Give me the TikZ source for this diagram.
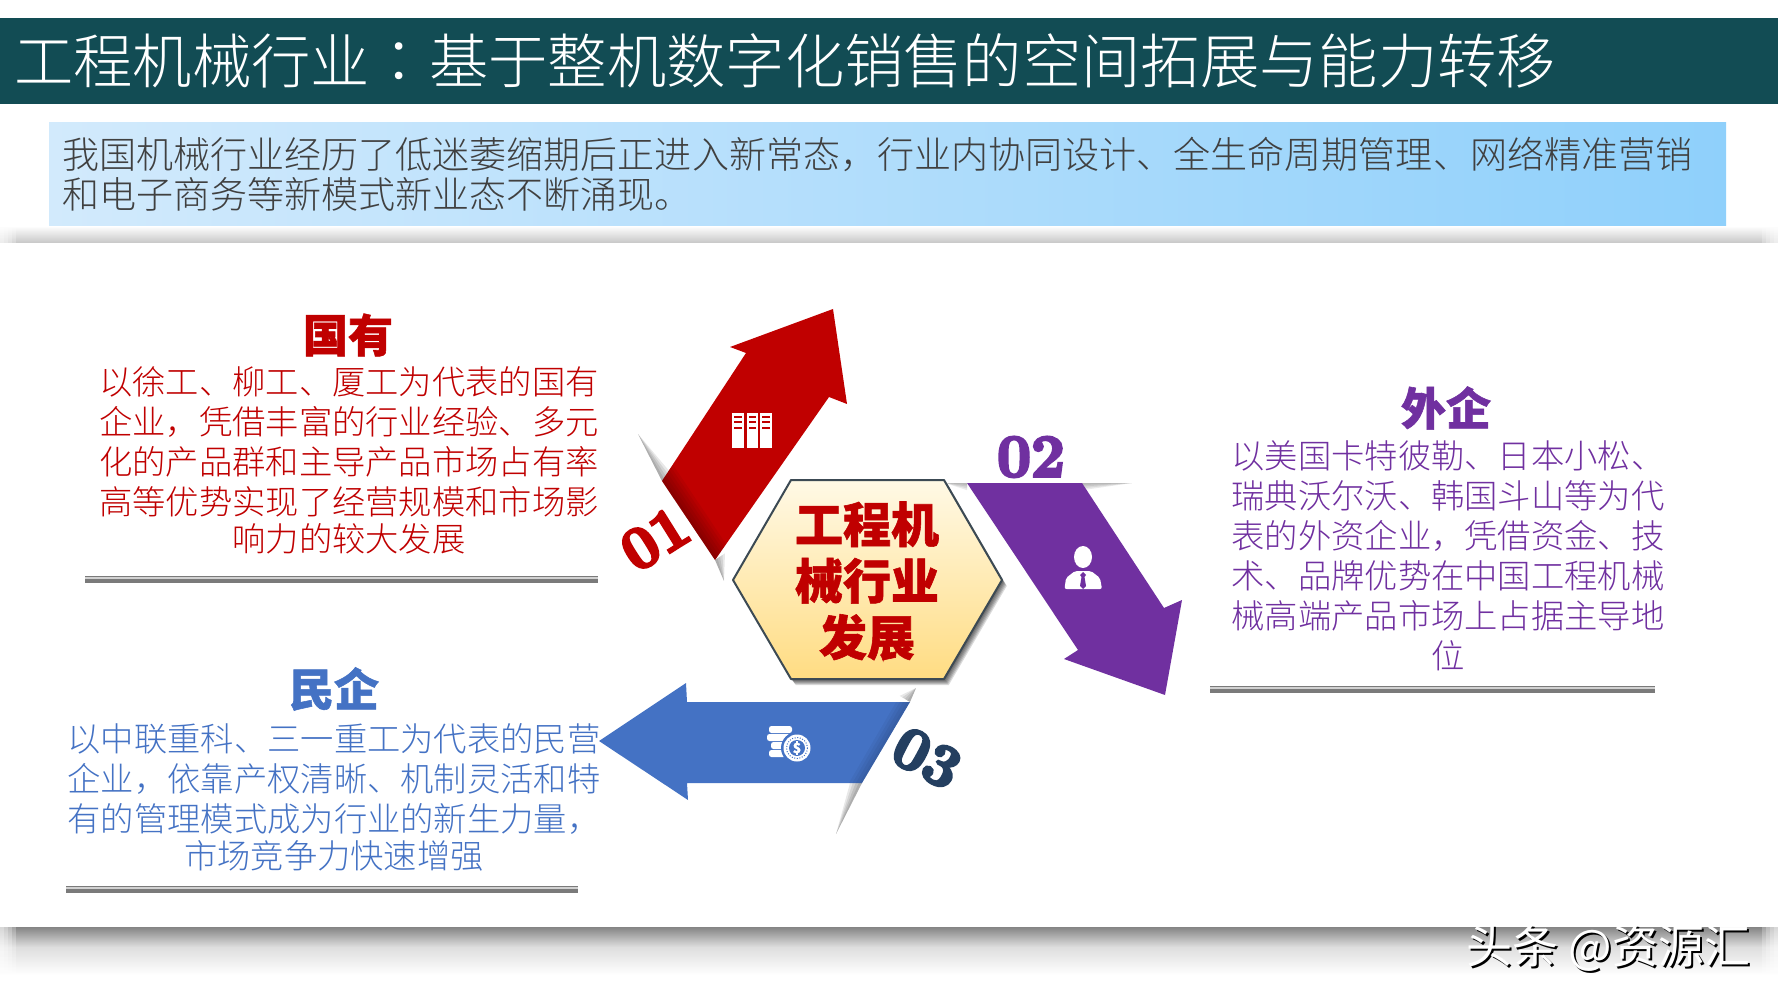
\documentclass[tikz,border=0pt]{standalone}
\usepackage{fontspec}
\newfontfamily\cjk{Noto Sans CJK SC Light}
\newfontfamily\cjkheavy[BoldFeatures={FakeBold=1.2}]{Noto Sans CJK SC}
\newfontfamily\cjktc{Noto Sans CJK TC Light}
\newfontfamily\numfont[FakeBold=5]{Latin Modern Roman}
\usetikzlibrary{calc}
\definecolor{titlebar}{HTML}{124C54}
\definecolor{corered}{HTML}{C00000}
\definecolor{corepurple}{HTML}{7030A0}
\definecolor{coreblue}{HTML}{4472C4}
\definecolor{corenavy}{HTML}{243F60}
\definecolor{introleft}{HTML}{D2EAFC}
\definecolor{introright}{HTML}{8FD0FB}
\definecolor{hextop}{HTML}{FFF9E6}
\definecolor{hexbottom}{HTML}{FFDC82}
\definecolor{hexline}{HTML}{3C4A54}
\tikzset{
  bodytext/.style={inner sep=0pt,align=center,font=\cjk\fontsize{33.3}{40}\selectfont},
  headtext/.style={inner sep=0pt,font=\cjkheavy\bfseries\fontsize{45}{50}\selectfont},
  numtext/.style={inner sep=0pt,font=\numfont\bfseries\fontsize{60}{60}\selectfont},
  iconfill/.style={fill=white,draw=none}
}
\begin{document}
\begin{tikzpicture}[x=1pt,y=-1pt]
\useasboundingbox (0,0) rectangle (1778,1000);
\fill[white] (0,0) rectangle (1778,1000);
% band shadows
\shade[top color=white,bottom color=black!22] (0,226) rectangle (1778,243);
\shade[top color=black!48,bottom color=black!13] (0,927) rectangle (1778,947);
\shade[top color=black!13,bottom color=white] (0,947) rectangle (1778,975);
\foreach \w in {4,8,12,16}{
  \fill[white,opacity=.25] (0,226) rectangle (\w,243);
  \fill[white,opacity=.25] (1778-\w,226) rectangle (1778,243);
  \fill[white,opacity=.25] (0,927) rectangle (\w,975);
  \fill[white,opacity=.25] (1778-\w,927) rectangle (1778,975);
}
% title
\fill[titlebar] (0,18) rectangle (1778,104);
\node[anchor=west,inner sep=0pt,text=white,font=\cjk\fontsize{59.3}{60}\selectfont] (title) at (14,61) {工程机械行业{\cjktc ：}基于整机数字化销售的空间拓展与能力转移};
% intro
\shade[left color=introleft,right color=introright] (49,122.5) rectangle (1726,226);
\node[anchor=west,inner sep=0pt,align=left,text=black!75,font=\cjk\fontsize{37.05}{40}\selectfont] (intro) at (62,174.5) {我国机械行业经历了低迷萎缩期后正进入新常态，行业内协同设计、全生命周期管理、网络精准营销\\和电子商务等新模式新业态不断涌现。};
% slivers
\foreach \w in {3,6,9,12}{
  \fill[black,opacity=.09] (638,434) -- (662,481) -- ($(662,481)+(.83*\w,-.56*\w)$) -- cycle;
  \fill[black,opacity=.09] (724,581) -- (715,560) -- ($(715,560)+(.83*\w,-.56*\w)$) -- cycle;
  \fill[black,opacity=.08] (945,483) -- (967,483) -- (967,483+.6*\w) -- cycle;
  \fill[black,opacity=.08] (1132,483) -- (1082,483) -- (1082,483+.6*\w) -- cycle;
  \fill[black,opacity=.09] (836,834) -- (862,783) -- ($(862,783)+(-.86*\w,-.51*\w)$) -- cycle;
  \fill[black,opacity=.09] (916,688) -- (910,702) -- ($(910,702)+(-.86*\w,-.51*\w)$) -- cycle;
}
% arrows
\def\redarrow{(662,481) -- (746,353) -- (730,347) -- (833,309) -- (847,404) -- (829,397) -- (715,560) -- cycle}
\def\purplearrow{(967,483) -- (1082,483) -- (1164,608) -- (1182,600) -- (1165,695) -- (1064,659) -- (1078,650) -- cycle}
\def\bluearrow{(599,741) -- (686,683) -- (687,702) -- (910,702) -- (862,783) -- (687,783) -- (688,800) -- cycle}
\fill[corered] \redarrow;
\begin{scope}
\clip \redarrow;
\foreach \w in {3,6,9,12,15,18}{
  \fill[black,opacity=.05] ($(662,481)+(-20,-30)$) -- ($(715,560)+(10,15)$) -- ($(715,560)+(10,15)+(.83*\w,-.56*\w)$) -- ($(662,481)+(-20,-30)+(.83*\w,-.56*\w)$) -- cycle;
}
\end{scope}
\fill[corepurple] \purplearrow;
\fill[coreblue] \bluearrow;
\begin{scope}
\clip \bluearrow;
\foreach \w in {3,6,9,12}{
  \fill[black,opacity=.04] (920,685) -- (850,805) -- ($(850,805)+(-.86*\w,-.51*\w)$) -- ($(920,685)+(-.86*\w,-.51*\w)$) -- cycle;
}
\end{scope}
% hexagon
\foreach \s in {1,2,...,6}{
  \fill[black,opacity=.14,shift={(\s*.8,\s)}] (791,480) -- (944,480) -- (1002,580) -- (944,679) -- (791,679) -- (733,580) -- cycle;
}
\shade[top color=hextop,bottom color=hexbottom,draw=hexline,line width=2pt,line join=round] (791,480) -- (944,480) -- (1002,580) -- (944,679) -- (791,679) -- (733,580) -- cycle;
\node[inner sep=0pt,align=center,text=corered,font=\cjkheavy\bfseries\fontsize{48}{56.5}\selectfont] (hexlabel) at (867,581) {工程机\\械行业\\发展};
% numbers
\node[numtext,text=corered,rotate=32] (n1) at (655,539) {01};
\node[numtext,text=corepurple] (n2) at (1031,457) {02};
\node[numtext,text=corenavy,rotate=-28] (n3) at (927,758) {03};
% book icon
\foreach \x/\wd in {732/12,747/11,760/12}{
  \fill[iconfill] (\x,413) rectangle (\x+\wd,448);
  \foreach \yy in {415.5,421,426.5}{
    \fill[corered] (\x+2,\yy) rectangle (\x+\wd-2,\yy+2);
  }
}
% person icon
\fill[iconfill] (1083,557) ellipse (9 and 11);
\fill[iconfill,rounded corners=2pt] (1064.5,589) -- (1066,578) -- (1075,571) -- (1091,571) -- (1100,578) -- (1102,589) -- cycle;
\fill[corepurple] (1083,572) -- (1080,575) -- (1081.5,577) -- (1080,586) -- (1083,589) -- (1086,586) -- (1084.5,577) -- (1086,575) -- cycle;
% coin icon
\foreach \xa/\xb/\ya in {769/792/726,767/790/734,771/786/742,769/786/750}{
  \fill[iconfill,rounded corners=2.5pt] (\xa,\ya) rectangle (\xb,\ya+7);
}
\fill[coreblue] (797,748) circle (16);
\fill[iconfill] (797,748) circle (13.5);
\draw[coreblue,line width=1pt,dash pattern=on 1pt off 1.6pt] (797,748) circle (10.5);
\fill[coreblue] (797,748) circle (8);
\node[inner sep=0pt,text=white,font=\cjkheavy\bfseries\fontsize{14}{14}\selectfont] (coinlabel) at (797,748) {\$};
% state-owned
\node[headtext,text=corered] (h1) at (348,335) {国有};
\node[bodytext,text=corered] (b1) at (349,460.5) {以徐工、柳工、厦工为代表的国有\\企业，凭借丰富的行业经验、多元\\化的产品群和主导产品市场占有率\\高等优势实现了经营规模和市场影\\[-3pt]响力的较大发展};
\fill[black!18] (85,576) rectangle (598,583);
\fill[black!52] (85,576.2) rectangle (598,577.2);
\fill[black!52] (85,579) rectangle (598,582.5);
% foreign
\node[headtext,text=corepurple] (h2) at (1446,408) {外企};
\node[bodytext,text=corepurple,align=center] (b2) at (1448,555.5) {以美国卡特彼勒、日本小松、\\瑞典沃尔沃、韩国斗山等为代\\表的外资企业，凭借资金、技\\术、品牌优势在中国工程机械\\械高端产品市场上占据主导地\\位};
\fill[black!18] (1210,686) rectangle (1655,693);
\fill[black!52] (1210,686.2) rectangle (1655,687.2);
\fill[black!52] (1210,689) rectangle (1655,692.5);
% private
\node[headtext,text=coreblue] (h3) at (334,689) {民企};
\node[bodytext,text=coreblue] (b3) at (334,797) {以中联重科、三一重工为代表的民营\\企业，依靠产权清晰、机制灵活和特\\有的管理模式成为行业的新生力量，\\[-3pt]市场竞争力快速增强};
\fill[black!18] (66,886) rectangle (578,893);
\fill[black!52] (66,886.2) rectangle (578,887.2);
\fill[black!52] (66,889) rectangle (578,892.5);
% watermark
\node[anchor=west,inner sep=0pt,text=black,font=\cjkheavy\fontsize{46}{46}\selectfont] (wmshadow) at (1468,950) {头条 @资源汇};
\node[anchor=west,inner sep=0pt,text=white,font=\cjkheavy\fontsize{46}{46}\selectfont] (wm) at (1466,948) {头条 @资源汇};
\end{tikzpicture}
\end{document}
